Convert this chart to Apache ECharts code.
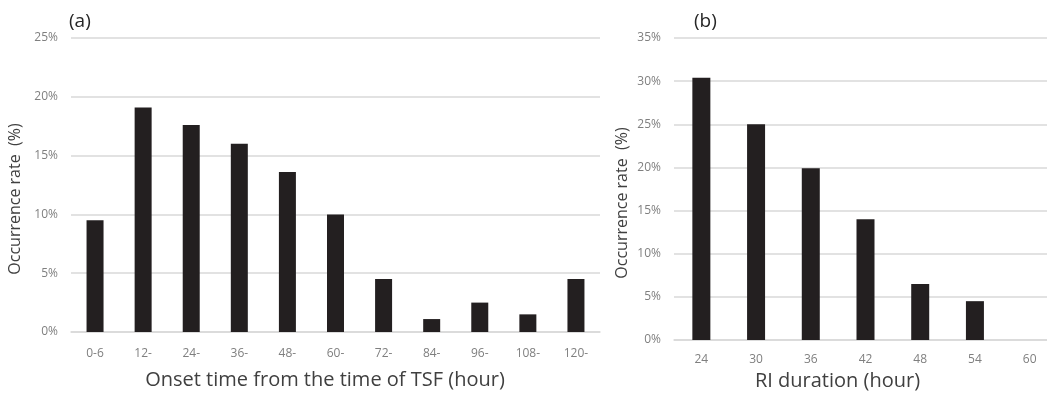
<!DOCTYPE html>
<html>
<head>
<meta charset="utf-8">
<script src="https://cdn.jsdelivr.net/npm/echarts@6/dist/echarts.min.js"></script>
<style>
html,body{margin:0;padding:0;background:#fff;}
#c{width:1047px;height:393px;}
</style>
</head>
<body>
<div id="c"></div>
<script>
const onsetCategories = ['0-6','12-','24-','36-','48-','60-','72-','84-','96-','108-','120-'];
const onsetRates = [9.5, 19.1, 17.6, 16.0, 13.6, 10.0, 4.5, 1.1, 2.5, 1.5, 4.5];
const durationCategories = ['24','30','36','42','48','54','60'];
const durationRates = [30.4, 25.0, 19.9, 14.0, 6.5, 4.5, 0];
const yTicksA = [0, 5, 10, 15, 20, 25];
const yTicksB = [0, 5, 10, 15, 20, 25, 30, 35];

const FONT = '"Open Sans", "Noto Sans", sans-serif';
const chart = echarts.init(document.getElementById('c'), null, {renderer:'canvas'});

function xAxisCfg(idx, cats, name, gap, labelMargin, pad){
  return {
    type:'category', gridIndex:idx, data:cats,
    axisLine:{show:true, lineStyle:{color:'#d9d9d9', width:1.5}},
    axisTick:{show:false},
    axisLabel:{color:'#7f7f7f', fontFamily:FONT, fontSize:12, margin:labelMargin},
    name:name, nameLocation:'middle', nameGap:gap,
    nameTextStyle:{color:'#404040', fontFamily:FONT, fontSize:20, padding:pad}
  };
}
function yAxisCfg(idx, ticks, gap){
  return {
    type:'value', gridIndex:idx, min:ticks[0], max:ticks[ticks.length-1], interval:5,
    axisLine:{show:false}, axisTick:{show:false},
    splitLine:{lineStyle:{color:'#d9d9d9', width:1.5}},
    axisLabel:{color:'#7f7f7f', fontFamily:FONT, fontSize:12, margin:13, formatter:'{value}%'},
    name:'Occurrence rate  (%)', nameLocation:'middle', nameRotate:90, nameGap:gap,
    nameTextStyle:{color:'#404040', fontFamily:FONT, fontSize:16, padding:[0,28,0,0]}
  };
}

chart.setOption({
  backgroundColor:'#ffffff',
  animation:false,
  title:[
    {text:'(a)', left:64, top:7, textStyle:{fontFamily:FONT, fontSize:19, fontWeight:'normal', color:'#262626'}},
    {text:'(b)', left:689, top:7, textStyle:{fontFamily:FONT, fontSize:19, fontWeight:'normal', color:'#262626'}}
  ],
  grid:[
    {left:71, top:38, width:529, height:294, outerBoundsMode:'none', containLabel:false},
    {left:674, top:38, width:383, height:302, outerBoundsMode:'none', containLabel:false}
  ],
  xAxis:[
    xAxisCfg(0, onsetCategories, 'Onset time from the time of TSF (hour)', 38, 16, [0,21,0,0]),
    xAxisCfg(1, durationCategories, 'RI duration (hour)', 29, 14, [0,56,0,0])
  ],
  yAxis:[ yAxisCfg(0, yTicksA, 41), yAxisCfg(1, yTicksB, 44) ],
  series:[
    {type:'bar', xAxisIndex:0, yAxisIndex:0, data:onsetRates, barWidth:17,
     itemStyle:{color:'#231f20'}},
    {type:'bar', xAxisIndex:1, yAxisIndex:1, data:durationRates, barWidth:18,
     itemStyle:{color:'#231f20'}}
  ]
});
</script>
</body>
</html>
